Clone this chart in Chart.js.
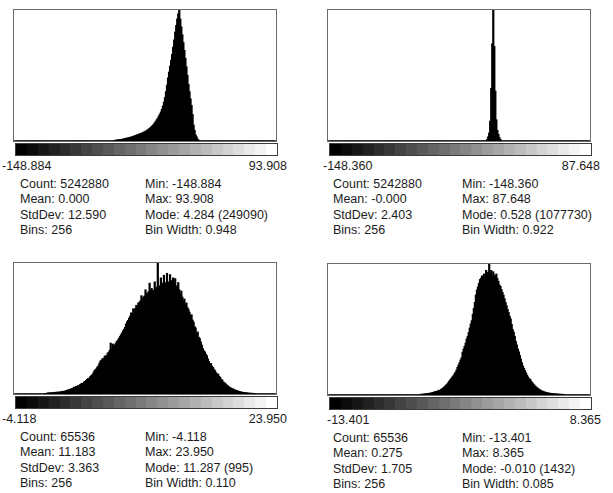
<!DOCTYPE html>
<html>
<head>
<meta charset="utf-8">
<script src="https://cdn.jsdelivr.net/npm/chart.js@4/dist/chart.umd.min.js"></script>
<style>
  body { margin: 0; width: 613px; height: 493px; overflow: hidden; position: relative; background: #fff;
         font-family: "Liberation Sans", Arial, sans-serif; font-size: 12.5px; color: #1c1c1c; }
  .plot { position: absolute; width: 262px; height: 131px; border: 1px solid #6a6a6a; }
  .plot canvas { display: block; }
  .lut { position: absolute; width: 261px; height: 11px; border: 1px solid #3c3c3c; }
  .lbl { position: absolute; white-space: nowrap; line-height: 15px; }
</style>
</head>
<body>
<script>
// histogram statistics as printed under each plot
const binCount = 256;
const minLabels = ["-148.884", "-148.360", "-4.118", "-13.401"];
const maxLabels = ["93.908", "87.648", "23.950", "8.365"];
const pixelCounts = ["5242880", "5242880", "65536", "65536"];
const means = ["0.000", "-0.000", "11.183", "0.275"];
const stdDevs = ["12.590", "2.403", "3.363", "1.705"];
const modes = ["4.284", "0.528", "11.287", "-0.010"];
const modeCounts = [249090, 1077730, 995, 1432];
const binWidths = ["0.948", "0.922", "0.110", "0.085"];

// first non-empty bin of each histogram, then the counts from there on
const firstBins = [98, 155, 30, 90];
const hist1 = [1000, 1250, 1500, 1740, 1990, 2240, 2490, 2990, 3240, 3740,
  4240, 4730, 5230, 5730, 6230, 6730, 7220, 7720, 8470, 9220,
  9960, 10710, 11460, 12210, 12950, 13700, 14450, 15190, 16190, 17190,
  18180, 19430, 20670, 22170, 23660, 25410, 27400, 29390, 31630, 34130,
  37110, 40100, 43340, 46830, 50570, 54800, 59780, 66010, 73480, 82200,
  93410, 105860, 119560, 130770, 141980, 153190, 164400, 178100, 191800, 206750,
  219200, 231650, 241620, 249090, 231650, 216710, 201760, 186820, 171870, 156930,
  140740, 124550, 107110, 93410, 79710, 67250, 49820, 29890, 19930, 11210,
  7470, 2990, 1000];
const hist2 = [10800, 32300, 64700, 161700, 431100, 797500, 1077730, 776000, 409500, 172400,
  86200, 53900, 26900, 10800];
const hist3 = [3, 0, 5, 8, 4, 9, 6, 10, 7, 11,
  10, 13, 9, 14, 12, 16, 15, 18, 20, 17,
  24, 22, 30, 27, 35, 33, 41, 38, 50, 46,
  56, 52, 62, 60, 70, 75, 80, 77, 90, 94,
  102, 109, 118, 115, 130, 138, 145, 158, 174, 183,
  190, 204, 212, 232, 249, 255, 268, 262, 282, 290,
  284, 308, 315, 330, 385, 340, 378, 358, 372, 385,
  398, 408, 420, 435, 448, 462, 478, 490, 505, 530,
  547, 558, 575, 590, 615, 605, 645, 637, 648, 672,
  660, 690, 695, 706, 745, 722, 735, 742, 790, 755,
  766, 775, 840, 780, 800, 785, 786, 850, 795, 810,
  995, 805, 820, 880, 815, 840, 900, 830, 845, 915,
  835, 850, 905, 840, 860, 880, 830, 875, 820, 810,
  845, 790, 756, 780, 735, 706, 720, 680, 690, 655,
  640, 620, 597, 600, 560, 545, 510, 500, 458, 470,
  430, 420, 395, 370, 345, 328, 318, 300, 290, 265,
  245, 229, 230, 210, 200, 185, 175, 160, 149, 150,
  132, 125, 110, 105, 90, 85, 78, 70, 62, 58,
  50, 46, 42, 38, 35, 30, 28, 25, 22, 20,
  17, 15, 12, 12, 9, 10, 7, 8, 5, 6,
  4, 5, 3, 4, 2, 3];
const hist4 = [6, 4, 8, 7, 11, 9, 14, 12, 17, 15,
  22, 20, 27, 29, 33, 38, 36, 45, 50, 48,
  60, 66, 74, 86, 95, 108, 118, 132, 150, 165,
  178, 195, 208, 228, 245, 268, 300, 325, 350, 380,
  405, 465, 500, 530, 565, 610, 640, 680, 730, 775,
  810, 880, 945, 1010, 1090, 1145, 1180, 1220, 1260, 1275,
  1300, 1280, 1320, 1290, 1360, 1310, 1340, 1432, 1330, 1360,
  1300, 1345, 1310, 1290, 1320, 1270, 1240, 1200, 1185, 1150,
  1120, 1090, 1050, 1010, 975, 935, 900, 860, 830, 770,
  715, 685, 640, 585, 545, 500, 470, 430, 390, 350,
  315, 290, 265, 240, 215, 195, 175, 170, 150, 135,
  120, 108, 95, 86, 75, 68, 58, 52, 45, 40,
  36, 32, 28, 25, 22, 20, 18, 16, 15, 14,
  12, 11, 10, 9, 8, 7, 6, 7, 4, 5, 3];
const histograms = [hist1, hist2, hist3, hist4];

// layout of the four panels (top-left of the plot frame) and their text
const panels = [
  { x: 13, y: 9, minX: 2, maxRight: 287, col1: 20, col2: 145 },
  { x: 327, y: 9, minX: 323, maxRight: 600, col1: 333, col2: 462 },
  { x: 13, y: 262, minX: 2, maxRight: 287, col1: 20, col2: 145 },
  { x: 327, y: 263, minX: 327, maxRight: 601, col1: 333, col2: 462 }
];

function lutGradient(steps) {
  const stops = [];
  for (let i = 0; i < steps; i++) {
    const g = Math.round(i * 255 / (steps - 1));
    const c = `rgb(${g},${g},${g})`;
    stops.push(`${c} ${(i * 100 / steps).toFixed(2)}%`, `${c} ${((i + 1) * 100 / steps).toFixed(2)}%`);
  }
  return `linear-gradient(to right, ${stops.join(', ')})`;
}

function addText(text, left, top, right) {
  const el = document.createElement('div');
  el.className = 'lbl';
  el.textContent = text;
  el.style.top = top + 'px';
  if (right !== undefined) el.style.right = (613 - right) + 'px';
  else el.style.left = left + 'px';
  document.body.appendChild(el);
}

panels.forEach((p, i) => {
  const box = document.createElement('div');
  box.className = 'plot';
  box.style.left = p.x + 'px';
  box.style.top = p.y + 'px';
  const canvas = document.createElement('canvas');
  canvas.width = 262;
  canvas.height = 131;
  box.appendChild(canvas);
  document.body.appendChild(box);

  const lut = document.createElement('div');
  lut.className = 'lut';
  lut.style.left = (p.x + 2) + 'px';
  lut.style.top = (p.y + 134) + 'px';
  lut.style.background = lutGradient(24);
  document.body.appendChild(lut);

  addText(minLabels[i], p.minX, p.y + 150);
  addText(maxLabels[i], 0, p.y + 150, p.maxRight);
  const rowTop = p.y + 168;
  const left = ["Count: " + pixelCounts[i], "Mean: " + means[i], "StdDev: " + stdDevs[i], "Bins: " + binCount];
  const right = ["Min: " + minLabels[i], "Max: " + maxLabels[i],
    "Mode: " + modes[i] + " (" + modeCounts[i] + ")", "Bin Width: " + binWidths[i]];
  left.forEach((t, r) => addText(t, p.col1, rowTop + r * 15.3));
  right.forEach((t, r) => addText(t, p.col2, rowTop + r * 15.3));

  const counts = new Array(binCount).fill(0);
  histograms[i].forEach((v, k) => { counts[firstBins[i] + k] = v; });
  const labels = counts.map((_, k) => k);

  new Chart(canvas.getContext('2d'), {
    type: 'bar',
    data: {
      labels: labels,
      datasets: [{
        data: counts,
        backgroundColor: '#000',
        borderWidth: 0,
        barPercentage: 1,
        categoryPercentage: 1,
        inflateAmount: 0.6
      }]
    },
    options: {
      responsive: false,
      animation: false,
      layout: { padding: 0 },
      plugins: { legend: { display: false }, tooltip: { enabled: false } },
      scales: {
        x: { display: false },
        y: { display: false, min: 0, max: modeCounts[i] }
      }
    }
  });
});
</script>
</body>
</html>
